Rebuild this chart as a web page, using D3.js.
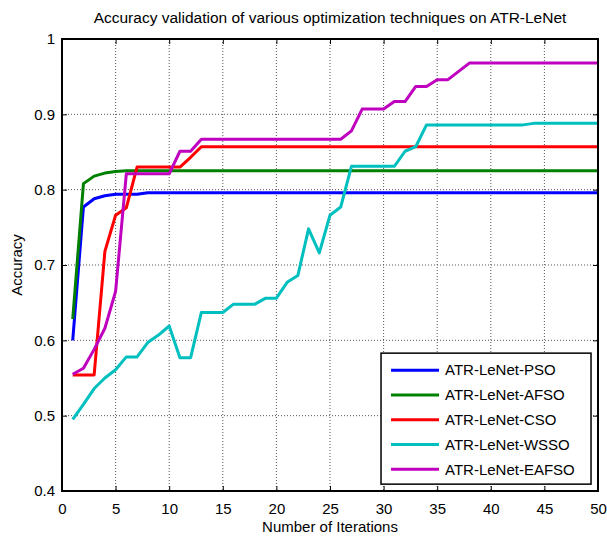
<!DOCTYPE html>
<html>
<head>
<meta charset="utf-8">
<script src="https://cdn.jsdelivr.net/npm/d3@7"></script>
<style>
  body { margin: 0; background: #fff; }
  svg text { font-family: "Liberation Sans", Arial, sans-serif; fill: #000; }
</style>
</head>
<body>
<svg id="chart" width="607" height="538"></svg>
<script>
// iterations 1..50
const iterations = d3.range(1, 51)

const seriesNames = ["ATR-LeNet-PSO", "ATR-LeNet-AFSO", "ATR-LeNet-CSO", "ATR-LeNet-WSSO", "ATR-LeNet-EAFSO"]
const seriesColors = ["#0000ff", "#008000", "#ff0000", "#00bfbf", "#bf00bf"]

const psoValues = [0.600, 0.777, 0.788, 0.792, 0.794, 0.794, 0.794, 0.796, 0.796, 0.796,
	0.796, 0.796, 0.796, 0.796, 0.796, 0.796, 0.796, 0.796, 0.796, 0.796,
	0.796, 0.796, 0.796, 0.796, 0.796, 0.796, 0.796, 0.796, 0.796, 0.796,
	0.796, 0.796, 0.796, 0.796, 0.796, 0.796, 0.796, 0.796, 0.796, 0.796,
	0.796, 0.796, 0.796, 0.796, 0.796, 0.796, 0.796, 0.796, 0.796, 0.796]

const afsoValues = [0.628, 0.808, 0.818, 0.822, 0.824, 0.825, 0.825, 0.825, 0.825, 0.825,
	0.825, 0.825, 0.825, 0.825, 0.825, 0.825, 0.825, 0.825, 0.825, 0.825,
	0.825, 0.825, 0.825, 0.825, 0.825, 0.825, 0.825, 0.825, 0.825, 0.825,
	0.825, 0.825, 0.825, 0.825, 0.825, 0.825, 0.825, 0.825, 0.825, 0.825,
	0.825, 0.825, 0.825, 0.825, 0.825, 0.825, 0.825, 0.825, 0.825, 0.825]

const csoValues = [0.554, 0.554, 0.554, 0.718, 0.766, 0.776, 0.830, 0.830, 0.830, 0.830,
	0.830, 0.843, 0.857, 0.857, 0.857, 0.857, 0.857, 0.857, 0.857, 0.857,
	0.857, 0.857, 0.857, 0.857, 0.857, 0.857, 0.857, 0.857, 0.857, 0.857,
	0.857, 0.857, 0.857, 0.857, 0.857, 0.857, 0.857, 0.857, 0.857, 0.857,
	0.857, 0.857, 0.857, 0.857, 0.857, 0.857, 0.857, 0.857, 0.857, 0.857]

const wssoValues = [0.495, 0.515, 0.536, 0.550, 0.561, 0.578, 0.578, 0.597, 0.607, 0.619,
	0.577, 0.577, 0.637, 0.637, 0.637, 0.648, 0.648, 0.648, 0.656, 0.656,
	0.677, 0.686, 0.748, 0.716, 0.766, 0.777, 0.831, 0.831, 0.831, 0.831,
	0.831, 0.851, 0.857, 0.886, 0.886, 0.886, 0.886, 0.886, 0.886, 0.886,
	0.886, 0.886, 0.886, 0.888, 0.888, 0.888, 0.888, 0.888, 0.888, 0.888]

const eafsoValues = [0.555, 0.563, 0.588, 0.616, 0.665, 0.821, 0.821, 0.821, 0.821, 0.821,
	0.851, 0.851, 0.867, 0.867, 0.867, 0.867, 0.867, 0.867, 0.867, 0.867,
	0.867, 0.867, 0.867, 0.867, 0.867, 0.867, 0.878, 0.907, 0.907, 0.907,
	0.917, 0.917, 0.937, 0.937, 0.946, 0.946, 0.957, 0.968, 0.968, 0.968,
	0.968, 0.968, 0.968, 0.968, 0.968, 0.968, 0.968, 0.968, 0.968, 0.968]

const xTicks = d3.range(0, 51, 5)
const yTicks = [0.4, 0.5, 0.6, 0.7, 0.8, 0.9, 1]

const allSeries = [psoValues, afsoValues, csoValues, wssoValues, eafsoValues]

const dims = {
	width: 607,
	height: 538,
	margin: {top: 39, left: 62, right: 9, bottom: 47}
}
const plotW = dims.width - dims.margin.left - dims.margin.right
const plotH = dims.height - dims.margin.top - dims.margin.bottom

const svg = d3.select("#chart")
const g = svg.append("g")
	.attr("transform", `translate(${dims.margin.left},${dims.margin.top})`)

const x = d3.scaleLinear().domain([0, 50]).range([0, plotW])
const y = d3.scaleLinear().domain([0.4, 1]).range([plotH, 0])

g.append("rect")
	.attr("width", plotW).attr("height", plotH)
	.attr("fill", "#fff")

// grid
g.append("g")
	.selectAll("line")
	.data(xTicks.slice(1, -1))
	.join("line")
		.attr("x1", d => x(d)).attr("x2", d => x(d))
		.attr("y1", 0).attr("y2", plotH)
		.attr("stroke", "#555").attr("stroke-width", 1)
		.attr("stroke-dasharray", "1,2")

g.append("g")
	.selectAll("line")
	.data(yTicks.slice(1, -1))
	.join("line")
		.attr("x1", 0).attr("x2", plotW)
		.attr("y1", d => y(d)).attr("y2", d => y(d))
		.attr("stroke", "#555").attr("stroke-width", 1)
		.attr("stroke-dasharray", "1,2")

// axes
const xAxis = g.append("g")
	.attr("transform", `translate(0,${plotH})`)
	.call(d3.axisBottom(x).tickValues(xTicks).tickSize(-5).tickPadding(12))
const yAxis = g.append("g")
	.call(d3.axisLeft(y).tickValues(yTicks).tickSize(-5).tickPadding(7).tickFormat(d => d === 1 ? "1" : d3.format(".1f")(d)))
g.append("g")
	.call(d3.axisTop(x).tickValues(xTicks).tickSize(-5).tickFormat(""))
	.select(".domain").remove()
g.append("g")
	.attr("transform", `translate(${plotW},0)`)
	.call(d3.axisRight(y).tickValues(yTicks).tickSize(-5).tickFormat(""))
	.select(".domain").remove()

;[xAxis, yAxis].forEach(a => {
	a.select(".domain").remove()
	a.selectAll("text")
		.style("font-family", "'Liberation Sans', Arial, sans-serif")
		.style("font-size", "15px")
		.attr("fill", "#000")
})

// lines
const line = d3.line()
	.x((d, i) => x(iterations[i]))
	.y(d => y(d))

g.append("g")
	.selectAll("path")
	.data(allSeries)
	.join("path")
		.attr("d", line)
		.attr("fill", "none")
		.attr("stroke", (d, i) => seriesColors[i])
		.attr("stroke-width", 3)
		.attr("stroke-linejoin", "round")

// box
g.append("rect")
	.attr("width", plotW).attr("height", plotH)
	.attr("fill", "none")
	.attr("stroke", "#000").attr("stroke-width", 2)

// legend
const legend = g.append("g")
	.attr("transform", `translate(${x(29.76)},${y(0.583)})`)
legend.append("rect")
	.attr("width", 210).attr("height", 131)
	.attr("fill", "#fff")
	.attr("stroke", "#000").attr("stroke-width", 1.5)

const items = legend.selectAll("g.item")
	.data(seriesNames)
	.join("g")
		.attr("class", "item")
		.attr("transform", (d, i) => `translate(0,${17 + i * 24.8})`)
items.append("line")
	.attr("x1", 10).attr("x2", 58)
	.attr("stroke", (d, i) => seriesColors[i])
	.attr("stroke-width", 3)
items.append("text")
	.attr("x", 64).attr("dy", "0.35em")
	.style("font-size", "15px")
	.text(d => d)

// title and labels
svg.append("text")
	.attr("x", dims.margin.left + plotW / 2).attr("y", 23)
	.attr("text-anchor", "middle")
	.style("font-size", "15.5px")
	.text("Accuracy validation of various optimization techniques on ATR-LeNet")

svg.append("text")
	.attr("x", dims.margin.left + plotW / 2).attr("y", 532)
	.attr("text-anchor", "middle")
	.style("font-size", "15px")
	.text("Number of Iterations")

svg.append("text")
	.attr("transform", `translate(22,${dims.margin.top + plotH / 2}) rotate(-90)`)
	.attr("text-anchor", "middle")
	.style("font-size", "15px")
	.text("Accuracy")
</script>
</body>
</html>
